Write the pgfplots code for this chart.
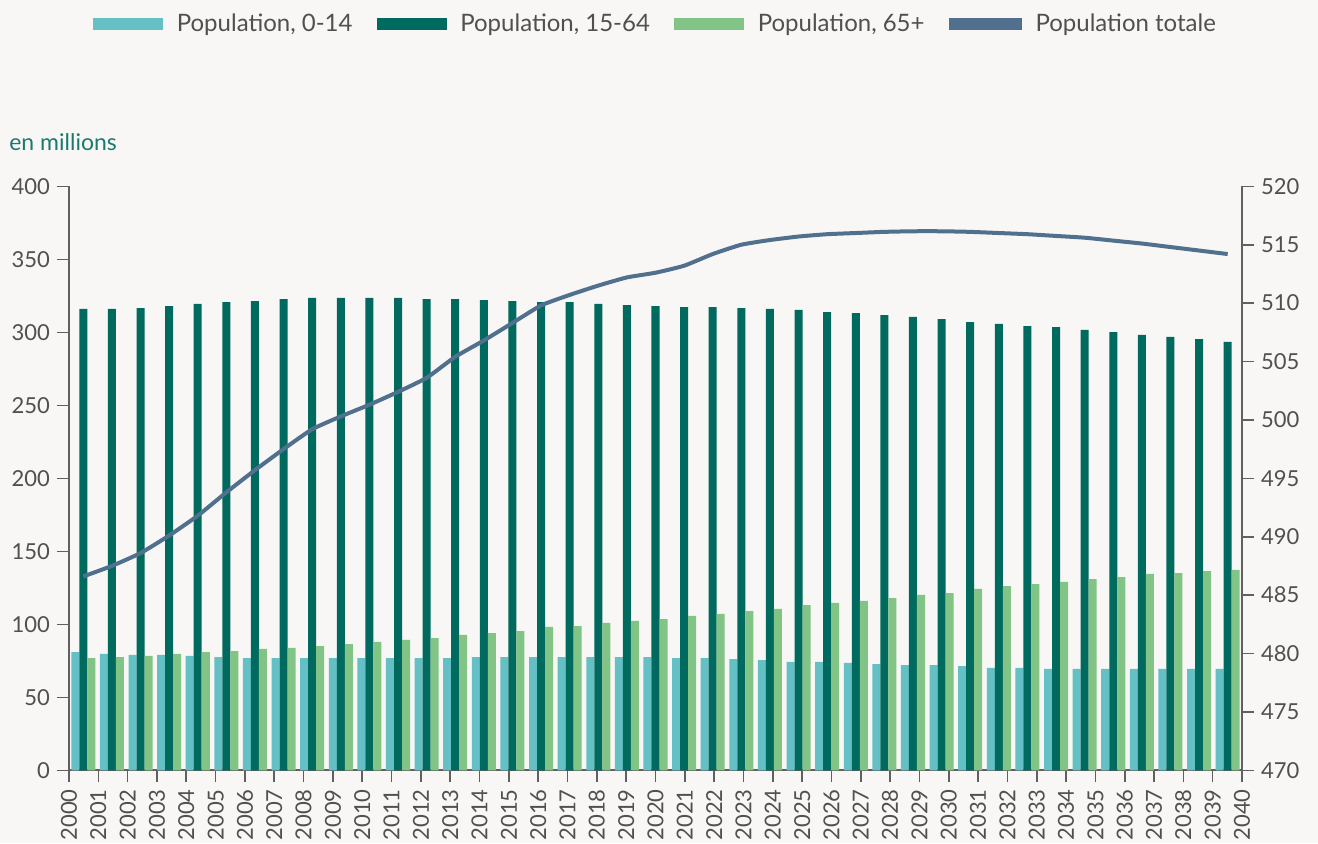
\documentclass[border=0pt]{standalone}
\usepackage{pgfplots}
\usepackage{pgfplotstable}
\pgfplotsset{compat=1.18}
\usepackage{fontspec}
\setmainfont{Lato}
\definecolor{bgc}{HTML}{F8F7F5}
\definecolor{cyc}{HTML}{64C0C4}
\definecolor{dkc}{HTML}{006A5E}
\definecolor{grc}{HTML}{82C386}
\definecolor{lnc}{HTML}{50708E}
\definecolor{txc}{HTML}{505050}
\definecolor{axc}{HTML}{606060}
\definecolor{tlc}{HTML}{1B7A6E}

\pgfplotstableread{
i young work old total
0 81.0 316.0 76.9 486.6
1 79.7 316.0 77.6 487.5
2 79.0 316.6 78.3 488.6
3 79.0 318.0 79.7 490.1
4 78.3 319.4 81.0 491.8
5 77.6 320.7 81.7 493.8
6 76.9 321.4 83.1 495.7
7 76.9 322.8 83.8 497.5
8 76.9 323.5 85.1 499.2
9 76.9 323.5 86.5 500.3
10 76.9 323.5 87.9 501.3
11 76.9 323.5 89.3 502.4
12 76.9 322.8 90.6 503.6
13 76.9 322.8 92.7 505.4
14 77.6 322.1 94.0 506.8
15 77.6 321.4 95.4 508.3
16 77.6 320.7 98.2 509.8
17 77.6 320.7 98.8 510.7
18 77.6 319.4 100.9 511.5
19 77.6 318.7 102.3 512.2
20 77.6 318.0 103.6 512.6
21 76.9 317.3 105.7 513.2
22 76.9 317.3 107.1 514.2
23 76.2 316.6 109.1 515.0
24 75.5 316.0 110.5 515.4
25 74.2 315.3 113.2 515.7
26 74.2 313.9 114.6 515.9
27 73.5 313.2 116.0 516.0
28 72.8 311.8 118.0 516.1
29 72.1 310.5 120.1 516.15
30 72.1 309.1 121.4 516.15
31 71.4 307.0 124.2 516.1
32 70.1 305.7 126.2 516.0
33 70.1 304.3 127.6 515.9
34 69.4 303.6 129.0 515.75
35 69.4 301.6 131.0 515.6
36 69.4 300.2 132.4 515.35
37 69.4 298.2 134.5 515.1
38 69.4 296.8 135.1 514.8
39 69.4 295.4 136.5 514.5
40 69.4 293.4 137.2 514.2
}\datatable

\begin{document}
\begin{tikzpicture}
\fill[bgc] (-34.5pt,-36.35pt) rectangle (624.5pt,385.15pt);
\pgfplotsset{
  common/.style={
    scale only axis, width=586.5pt, height=292pt,
    at={(0,0)}, anchor=south west,
    xmin=-0.5, xmax=40.5,
    tick align=outside, major tick length=6pt,
    tick style={axc, line width=0.8pt},
    axis line style={axc, line width=1pt, -},
    tick label style={font=\fontsize{11}{13}\selectfont, text=txc},
    /pgf/number format/assume math mode=true,
    clip=false,
  }
}
\begin{axis}[common,
  axis x line*=bottom, axis y line*=left,
  ymin=0, ymax=400, ytick={0,50,...,400},
  xtick={-0.5,0.525,1.55,2.575,3.6,4.625,5.65,6.675,7.7,8.725,9.75,10.775,11.8,12.825,13.85,14.875,15.9,16.925,17.95,18.975,20,21.025,22.05,23.075,24.1,25.125,26.15,27.175,28.2,29.225,30.25,31.275,32.3,33.325,34.35,35.375,36.4,37.425,38.45,39.475,40.5},
  xticklabels={2000,2001,2002,2003,2004,2005,2006,2007,2008,2009,2010,2011,2012,2013,2014,2015,2016,2017,2018,2019,2020,2021,2022,2023,2024,2025,2026,2027,2028,2029,2030,2031,2032,2033,2034,2035,2036,2037,2038,2039,2040},
  xticklabel style={rotate=90, anchor=east},
  yticklabel style={anchor=east},
]
\addplot[ybar, bar width=0.28, bar shift=-0.28, fill=cyc, draw=none] table[x=i, y=young] {\datatable};
\addplot[ybar, bar width=0.28, bar shift=0, fill=dkc, draw=none] table[x=i, y=work] {\datatable};
\addplot[ybar, bar width=0.28, bar shift=0.28, fill=grc, draw=none] table[x=i, y=old] {\datatable};
\node[anchor=west, text=tlc, font=\fontsize{11.5}{13}\selectfont, inner sep=0pt] at (axis description cs:-0.0512,1.0759) {en millions};
\end{axis}
\begin{axis}[common,
  axis x line=none, axis y line*=right,
  ymin=470, ymax=520, ytick={470,475,...,520},
  yticklabel style={anchor=west},
  legend columns=4,
  legend style={at={(0.5017,1.2779)}, anchor=center, draw=none, fill=none,
    font=\fontsize{12}{14}\selectfont, text=txc,
    /tikz/every even column/.append style={column sep=9pt},
    /tikz/every odd column/.append style={column sep=4pt},
    nodes={inner sep=3pt}},
]
\addlegendimage{legend image code/.code={\fill[cyc] (0pt,-2.9pt) rectangle (34.5pt,2.9pt);}}
\addlegendentry{Population, 0-14}
\addlegendimage{legend image code/.code={\fill[dkc] (0pt,-2.9pt) rectangle (34.5pt,2.9pt);}}
\addlegendentry{Population, 15-64}
\addlegendimage{legend image code/.code={\fill[grc] (0pt,-2.9pt) rectangle (34.5pt,2.9pt);}}
\addlegendentry{Population, 65+}
\addplot[lnc, line width=2pt, smooth, tension=0.3, legend image code/.code={\fill[lnc] (0pt,-2pt) rectangle (34.5pt,2pt);}] table[x=i, y=total] {\datatable};
\addlegendentry{Population totale}
\end{axis}
\pgfresetboundingbox
\path[use as bounding box] (-34.5pt,-36.35pt) rectangle (624.5pt,385.15pt);
\end{tikzpicture}
\end{document}
